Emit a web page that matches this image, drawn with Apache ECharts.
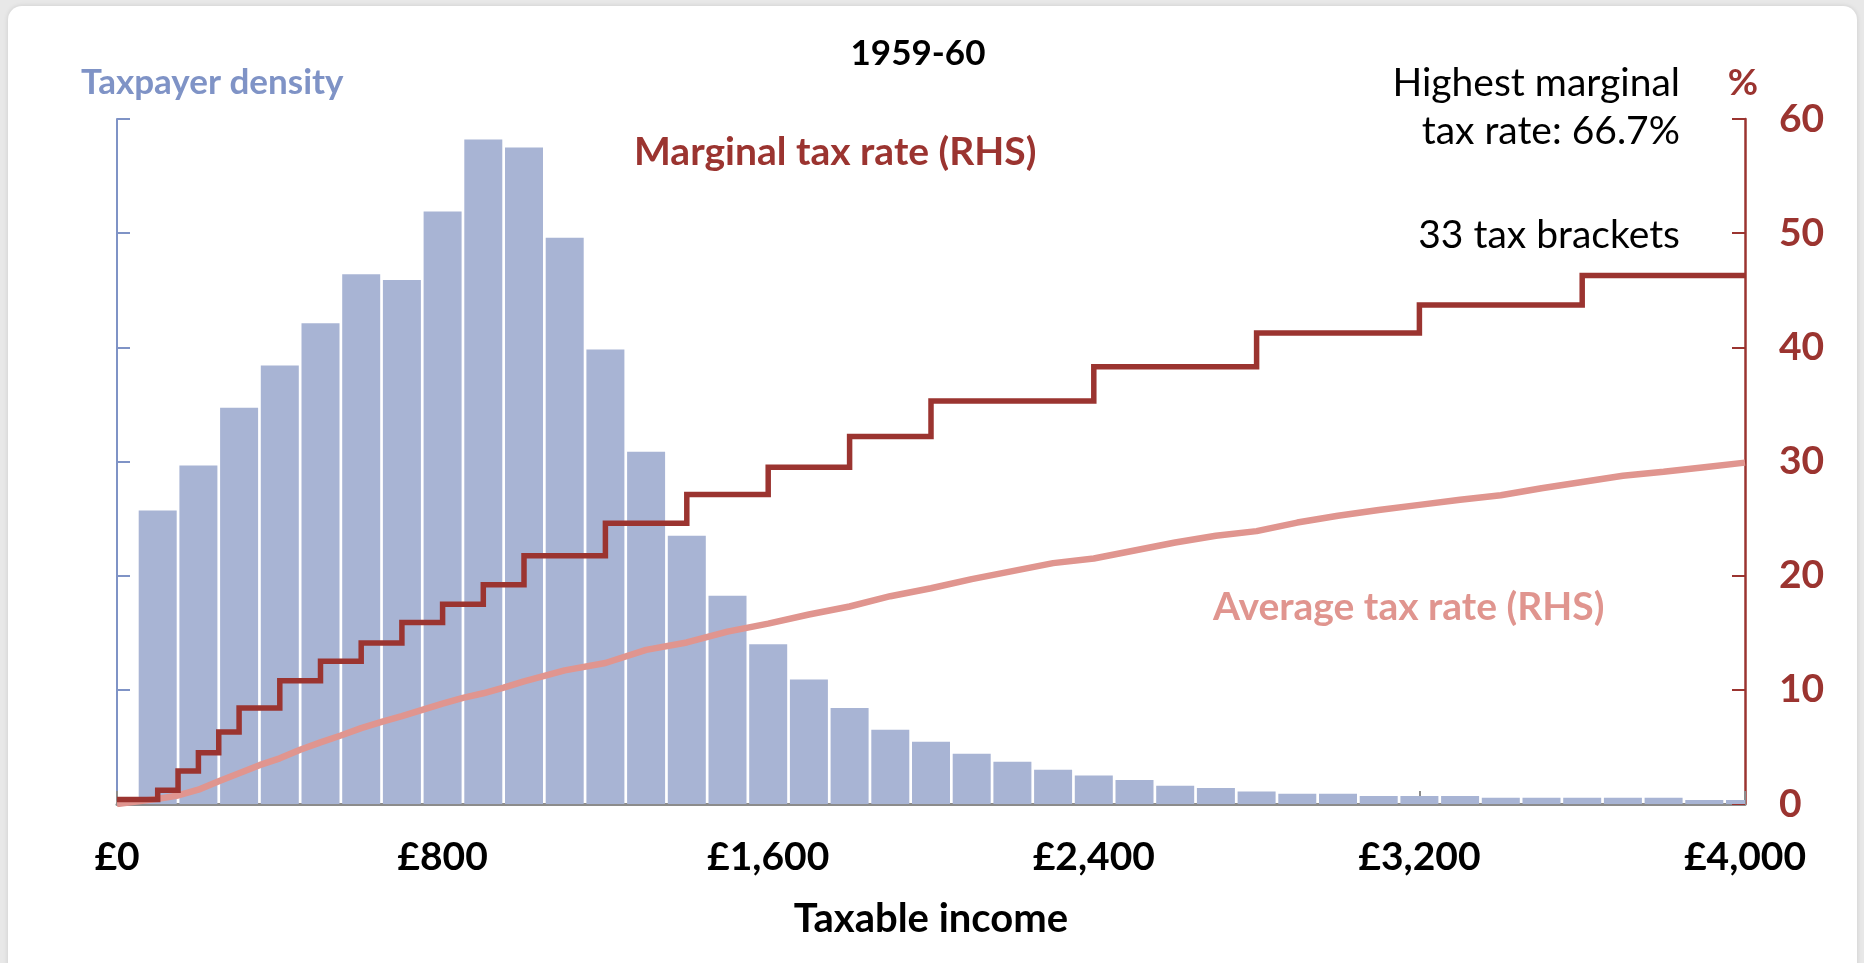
<!DOCTYPE html>
<html>
<head>
<meta charset="utf-8">
<title>1959-60 taxable income</title>
<script src="https://cdn.jsdelivr.net/npm/echarts@6/dist/echarts.min.js"></script>
<style>
  html, body { margin: 0; padding: 0; }
  body { width: 1864px; height: 963px; background: #e8e8e8; overflow: hidden; position: relative; }
  .card { position: absolute; left: 8px; top: 6px; width: 1849px; height: 1000px; background: #fff;
          border-radius: 14px; box-shadow: 0 0 5px rgba(0,0,0,0.12); }
  #chart { position: absolute; left: 0; top: 0; width: 1864px; height: 963px; }
</style>
</head>
<body>
<div class="card"></div>
<div id="chart"></div>
<script>
// taxpayer density histogram, bins centred on each £100
const binIncome = [100, 200, 300, 400, 500, 600, 700, 800, 900, 1000,
                   1100, 1200, 1300, 1400, 1500, 1600, 1700, 1800, 1900, 2000,
                   2100, 2200, 2300, 2400, 2500, 2600, 2700, 2800, 2900, 3000,
                   3100, 3200, 3300, 3400, 3500, 3600, 3700, 3800, 3900, 4000]
const density = [25.7, 29.65, 34.7, 38.4, 42.1, 46.4, 45.9, 51.9, 58.2, 57.5,
                 49.6, 39.8, 30.85, 23.5, 18.25, 14.0, 10.9, 8.4, 6.5, 5.45,
                 4.4, 3.7, 3.0, 2.5, 2.1, 1.6, 1.4, 1.1, 0.9, 0.9,
                 0.7, 0.7, 0.7, 0.55, 0.55, 0.55, 0.55, 0.55, 0.35, 0.35]

// marginal rate (%) starting at each bracket threshold
const bracketStart = [0, 100, 150, 200, 250, 300, 400, 500, 600, 700, 800, 900,
                      1000, 1200, 1400, 1600, 1800, 2000, 2400, 2800, 3200, 3600, 4000]
const marginalRate = [0.4, 1.2, 2.9, 4.5, 6.3, 8.4, 10.8, 12.5, 14.1, 15.9, 17.5, 19.2,
                      21.75, 24.6, 27.1, 29.5, 32.2, 35.3, 38.3, 41.25, 43.7, 46.3, 46.3]

// average rate (%)
const avgIncome = [0, 100, 150, 200, 250, 300, 350, 400, 450, 500, 550, 600, 650, 700, 750,
                   800, 850, 900, 950, 1000, 1100, 1200, 1300, 1400, 1500, 1600, 1700, 1800,
                   1900, 2000, 2100, 2200, 2300, 2400, 2500, 2600, 2700, 2800, 2900, 3000,
                   3100, 3200, 3300, 3400, 3500, 3600, 3700, 3800, 3900, 4000]
const avgRate = [0, 0.45, 0.75, 1.25, 2.0, 2.7, 3.4, 4.0, 4.75, 5.4, 6.0, 6.65, 7.2, 7.7, 8.25,
                 8.8, 9.3, 9.7, 10.2, 10.75, 11.7, 12.35, 13.5, 14.15, 15.1, 15.8, 16.6, 17.3,
                 18.2, 18.9, 19.7, 20.4, 21.1, 21.5, 22.2, 22.9, 23.5, 23.9, 24.65, 25.25,
                 25.75, 26.2, 26.65, 27.05, 27.65, 28.2, 28.75, 29.1, 29.5, 29.9]

const xTicks = [0, 800, 1600, 2400, 3200, 4000]

const FONT = 'Lato'
const BLUE = '#7f93c6'
const BAR = '#a8b4d4'
const RED = '#9b3430'
const PINK = '#e0958f'

const chart = echarts.init(document.getElementById('chart'), null, { renderer: 'canvas' })

// bars drawn as custom rects so the last half-bin gets cut at the right axis
function renderBin(params, api) {
    const base = api.coord([api.value(0), 0])
    const top = api.coord([api.value(0), api.value(1)])
    const w = 38
    const cs = params.coordSys
    const shape = echarts.graphic.clipRectByRect(
        { x: base[0] - w / 2, y: top[1], width: w, height: base[1] - top[1] },
        { x: cs.x, y: cs.y, width: cs.width, height: cs.height }
    )
    return shape && { type: 'rect', shape: shape, style: { fill: BAR } }
}

const option = {
    backgroundColor: 'transparent',
    animation: false,
    textStyle: { fontFamily: FONT },
    grid: { left: 117, right: 119, top: 119, bottom: 159 },
    xAxis: {
        type: 'value',
        min: 0, max: 4000, interval: 800,
        name: 'Taxable income',
        nameLocation: 'middle',
        nameGap: 95,
        nameTextStyle: { color: '#000', fontSize: 40, fontWeight: 'bold', fontFamily: FONT },
        axisLine: { show: true, lineStyle: { color: '#8c8c8c', width: 3 } },
        axisTick: { show: true, inside: true, length: 13, lineStyle: { color: '#8c8c8c', width: 2 } },
        axisLabel: {
            margin: 34, color: '#000', fontSize: 39, fontWeight: 'bold', fontFamily: FONT,
            formatter: v => xTicks.includes(v) ? '£' + v.toLocaleString('en-GB') : ''
        },
        splitLine: { show: false }
    },
    yAxis: [
        {
            // taxpayer density, unlabelled
            type: 'value', position: 'left',
            min: 0, max: 60, interval: 10,
            axisLine: { show: true, lineStyle: { color: BLUE, width: 2 } },
            axisTick: { show: true, inside: true, length: 13, lineStyle: { color: BLUE, width: 2 } },
            axisLabel: { show: false },
            splitLine: { show: false }
        },
        {
            type: 'value', position: 'right',
            min: 0, max: 60, interval: 10,
            axisLine: { show: true, lineStyle: { color: RED, width: 2.5 } },
            axisTick: { show: true, inside: true, length: 13, lineStyle: { color: RED, width: 2 } },
            axisLabel: { margin: 34, color: RED, fontSize: 39, fontWeight: 'bold', fontFamily: FONT },
            splitLine: { show: false }
        }
    ],
    series: [
        {
            name: 'Taxpayer density',
            type: 'custom',
            yAxisIndex: 0,
            renderItem: renderBin,
            encode: { x: 0, y: 1 },
            data: binIncome.map((x, i) => [x, density[i]]),
            z: 1
        },
        {
            name: 'Average tax rate (RHS)',
            type: 'line',
            yAxisIndex: 1,
            symbol: 'none',
            lineStyle: { color: PINK, width: 6.5 },
            data: avgIncome.map((x, i) => [x, avgRate[i]]),
            z: 3
        },
        {
            name: 'Marginal tax rate (RHS)',
            type: 'line',
            yAxisIndex: 1,
            step: 'end',
            symbol: 'none',
            lineStyle: { color: RED, width: 5.5, join: 'miter' },
            data: bracketStart.map((x, i) => [x, marginalRate[i]]),
            z: 4
        }
    ],
    graphic: [
        { type: 'text', x: 81, y: 83,
          style: { text: 'Taxpayer density', fill: BLUE, font: 'bold 35px ' + FONT, verticalAlign: 'middle' } },
        { type: 'text', x: 918, y: 54,
          style: { text: '1959-60', fill: '#000', font: 'bold 35px ' + FONT, align: 'center', verticalAlign: 'middle' } },
        { type: 'text', x: 634, y: 152,
          style: { text: 'Marginal tax rate (RHS)', fill: RED, font: 'bold 39px ' + FONT, verticalAlign: 'middle' } },
        { type: 'text', x: 1680, y: 83,
          style: { text: 'Highest marginal', fill: '#000', font: '39px ' + FONT, align: 'right', verticalAlign: 'middle' } },
        { type: 'text', x: 1680, y: 131,
          style: { text: 'tax rate: 66.7%', fill: '#000', font: '39px ' + FONT, align: 'right', verticalAlign: 'middle' } },
        { type: 'text', x: 1743, y: 83,
          style: { text: '%', fill: RED, font: 'bold 37px ' + FONT, align: 'center', verticalAlign: 'middle' } },
        { type: 'text', x: 1680, y: 235,
          style: { text: '33 tax brackets', fill: '#000', font: '39px ' + FONT, align: 'right', verticalAlign: 'middle' } },
        { type: 'text', x: 1213, y: 607,
          style: { text: 'Average tax rate (RHS)', fill: PINK, font: 'bold 39px ' + FONT, verticalAlign: 'middle' } }
    ]
}

chart.setOption(option)
</script>
</body>
</html>
